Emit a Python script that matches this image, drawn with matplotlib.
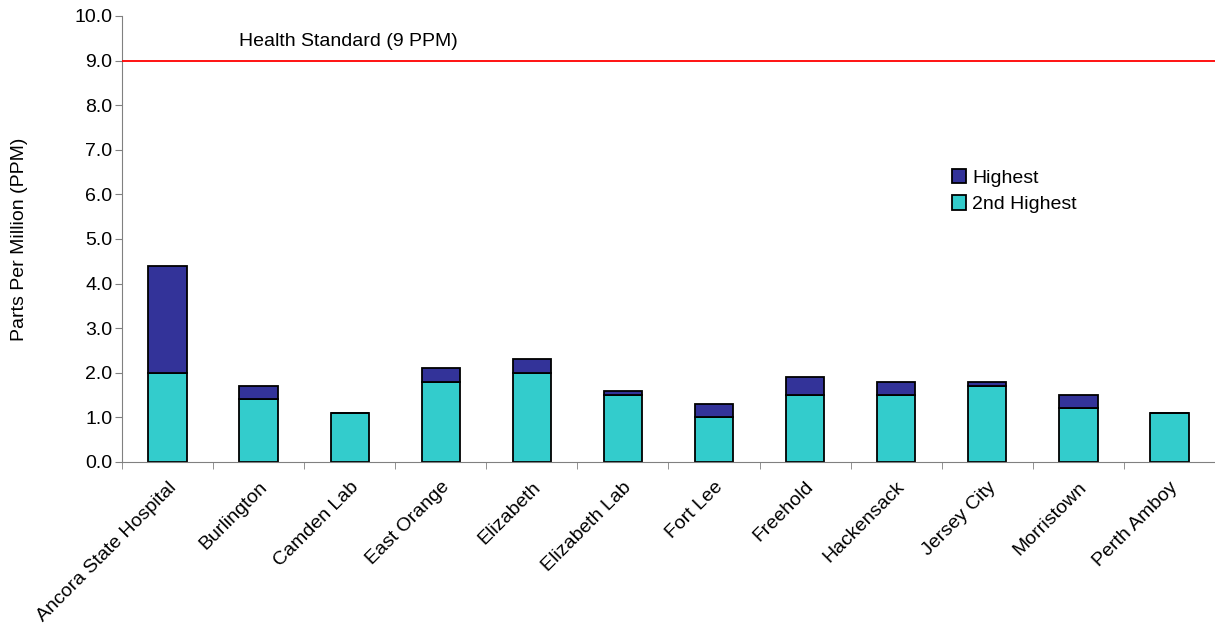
import numpy as np
from matplotlib import pyplot as plt
from matplotlib.ticker import FixedLocator

sites = ['Ancora State Hospital', 'Burlington', 'Camden Lab', 'East Orange',
         'Elizabeth', 'Elizabeth Lab', 'Fort Lee', 'Freehold', 'Hackensack',
         'Jersey City', 'Morristown', 'Perth Amboy']
second_highest = [2.0, 1.4, 1.1, 1.8, 2.0, 1.5, 1.0, 1.5, 1.5, 1.7, 1.2, 1.1]
highest = [4.4, 1.7, 1.1, 2.1, 2.3, 1.6, 1.3, 1.9, 1.8, 1.8, 1.5, 1.1]
standard = 9.0

plt.rcParams['font.family'] = ['Liberation Sans', 'DejaVu Sans']
plt.rcParams['font.size'] = 14

if __name__ == '__main__':
    fig = plt.figure(figsize=(12.15, 6.38), dpi=100)
    ax = fig.add_axes([0.1004, 0.276, 0.8996, 0.699])

    x = np.arange(len(sites))
    sec = np.array(second_highest)
    top = np.array(highest) - sec

    b2 = ax.bar(x, sec, width=0.42, color='#33CCCC', edgecolor='black', linewidth=1.3, label='2nd Highest', zorder=2)
    b1 = ax.bar(x, top, bottom=sec, width=0.42, color='#333399', edgecolor='black', linewidth=1.3, label='Highest', zorder=2)

    ax.axhline(standard, color='red', linewidth=1.3, zorder=3)
    ax.text(0.78, 9.42, 'Health Standard (9 PPM)', ha='left', va='center')

    ax.set_xlim(-0.5, len(sites) - 0.5)
    ax.set_ylim(0, 10)
    ax.set_yticks(np.arange(0, 10.5, 1.0))
    ax.set_yticklabels(['%.1f' % v for v in np.arange(0, 10.5, 1.0)])
    ax.set_xticks(x)
    ax.set_xticklabels(sites, rotation=45, ha='right', rotation_mode='anchor')
    ax.tick_params(axis='x', which='major', length=0, pad=12)
    ax.xaxis.set_minor_locator(FixedLocator(np.arange(-0.5, len(sites), 1.0)))
    ax.tick_params(axis='x', which='minor', length=5, color='#808080')
    ax.tick_params(axis='y', length=5, color='#808080', pad=2)

    for s in ['top', 'right']:
        ax.spines[s].set_visible(False)
    for s in ['left', 'bottom']:
        ax.spines[s].set_color('#808080')

    ax.set_ylabel('Parts Per Million (PPM)')
    ax.yaxis.set_label_coords(-0.086, 0.5)

    ax.legend([b1, b2], ['Highest', '2nd Highest'], frameon=False,
              loc='upper left', bbox_to_anchor=(0.772, 0.757), bbox_transform=fig.transFigure,
              handlelength=0.75, handleheight=0.75, handletextpad=0.3, labelspacing=0.45,
              borderpad=0.2)

    plt.savefig('out.png', dpi=100)
